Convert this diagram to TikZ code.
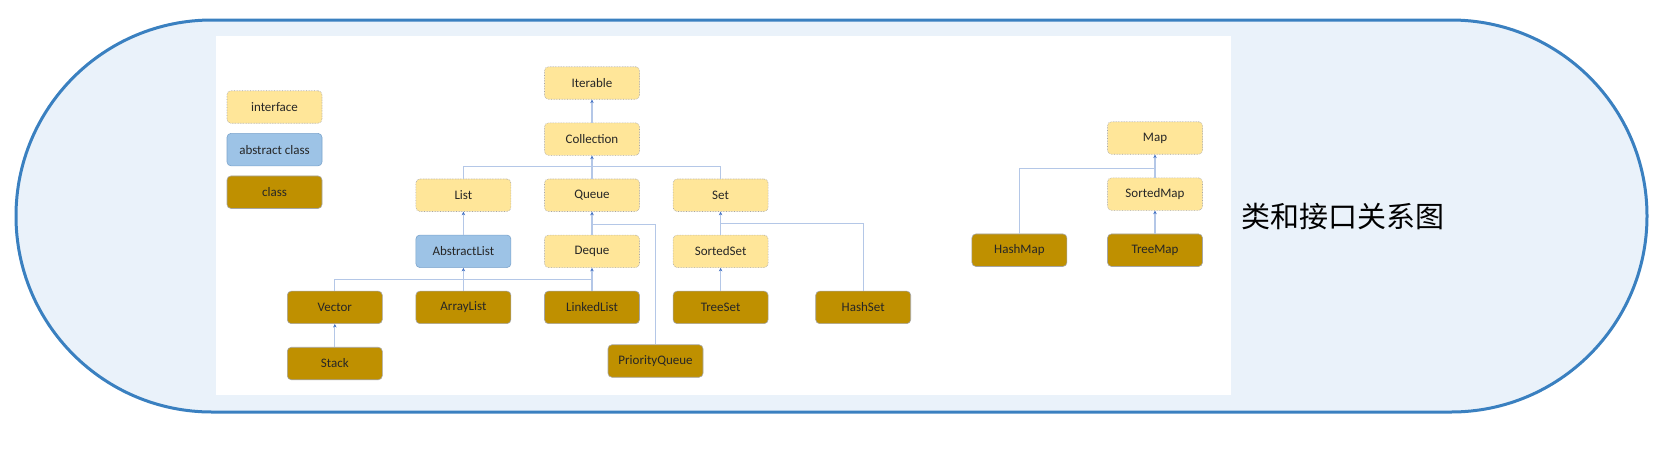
\documentclass[tikz,border=0pt]{standalone}
\usepackage{fontspec}
\setmainfont{Carlito}
\newfontfamily\cjk{Noto Sans CJK SC}
\usetikzlibrary{arrows.meta,positioning,calc}
\definecolor{FrameBlue}{RGB}{58,128,192}
\definecolor{FrameTint}{RGB}{234,242,250}
\definecolor{IfaceYellow}{RGB}{255,230,153}
\definecolor{AbsBlue}{RGB}{157,195,230}
\definecolor{AbsEdge}{RGB}{125,165,205}
\definecolor{ClassGold}{RGB}{191,144,0}
\definecolor{EdgeGray}{RGB}{165,165,165}
\definecolor{LinkBlue}{RGB}{180,199,231}
\definecolor{TipBlue}{RGB}{68,114,196}
\definecolor{Ink}{RGB}{38,38,38}
\tikzset{
  ibox/.style ={rectangle, rounded corners=4pt, draw=EdgeGray, densely dotted, line width=.6pt,
                fill=IfaceYellow, text=Ink, minimum width=95pt, minimum height=32.5pt,
                inner sep=0pt, font=\fontsize{13pt}{15pt}\selectfont},
  abox/.style ={ibox, solid, draw=AbsEdge, fill=AbsBlue},
  cbox/.style ={ibox, solid, draw=EdgeGray, fill=ClassGold},
  arr/.style  ={-{Stealth[length=3.5pt,width=3.5pt,color=TipBlue]}, draw=LinkBlue, line width=1.2pt},
  ln/.style   ={draw=LinkBlue, line width=1.2pt},
}

\begin{document}
\begin{tikzpicture}[x=1pt,y=-1pt,node distance=23pt and 33pt]
  \useasboundingbox (0,0) rectangle (1668,448);
  \draw[draw=FrameBlue, fill=FrameTint, line width=3pt, rounded corners=195.9pt]
    (16,20) rectangle (1647,412);
  \fill[white] (216,36) rectangle (1231,395);

  \node[ibox] (lgi) at (274.5,107) {interface};
  \node[abox, below=9.5pt of lgi] (lga) {abstract class};
  \node[cbox, below=9.5pt of lga] (lgc) {class};

  \node[ibox] (iter) at (592,83) {Iterable};
  \node[ibox, below=of iter] (coll) {Collection};
  \node[ibox, below=of coll] (queue) {Queue};
  \node[ibox, left=of queue] (list) {List};
  \node[ibox, right=of queue] (set) {Set};
  \node[abox, below=of list] (alist) {AbstractList};
  \node[ibox, below=of queue] (deque) {Deque};
  \node[ibox, below=of set] (sset) {SortedSet};
  \node[cbox, below=of alist] (arlist) {ArrayList};
  \node[cbox, below=of deque] (lnlist) {LinkedList};
  \node[cbox, below=of sset] (tset) {TreeSet};
  \node[cbox, left=of arlist] (vector) {Vector};
  \node[cbox, right=47pt of tset] (hset) {HashSet};
  \node[cbox, below=of vector] (stack) {Stack};
  \node[cbox] (pqueue) at (655.5,361) {PriorityQueue};

  \node[ibox] (map) at (1155,138) {Map};
  \node[ibox, below=of map] (smap) {SortedMap};
  \node[cbox, below=of smap] (tmap) {TreeMap};
  \node[cbox, left=40pt of tmap] (hmap) {HashMap};

  \node[anchor=west, inner sep=0pt, font=\cjk\fontsize{29pt}{34pt}\selectfont] (title)
    at (1241,217) {类和接口关系图};

  \coordinate (cbus) at ($(coll.south)+(0,11)$);
  \coordinate (qbus) at ($(queue.south)+(0,12.5)$);
  \coordinate (sbus) at ($(set.south)+(0,12)$);
  \coordinate (lbus) at ($(deque.south)+(0,12)$);
  \coordinate (mbus) at ($(map.south)+(0,14)$);

  \draw[arr] (coll) -- (iter);
  \draw[ln] (list.north) |- (cbus) -| (set.north);
  \draw[arr] (queue) -- (coll);
  \draw[arr] (alist) -- (list);
  \draw[arr] (deque) -- (queue);
  \draw[ln] (pqueue.north) |- (qbus);
  \draw[arr] (sset) -- (set);
  \draw[ln] (hset.north) |- (sbus);
  \draw[arr] (tset) -- (sset);
  \draw[ln] (vector.north) |- (lbus);
  \draw[arr] (arlist) -- (alist);
  \draw[arr] (lnlist) -- (deque);
  \draw[arr] (stack) -- (vector);
  \draw[arr] (smap) -- (map);
  \draw[ln] (hmap.north) |- (mbus);
  \draw[arr] (tmap) -- (smap);
\end{tikzpicture}
\end{document}
